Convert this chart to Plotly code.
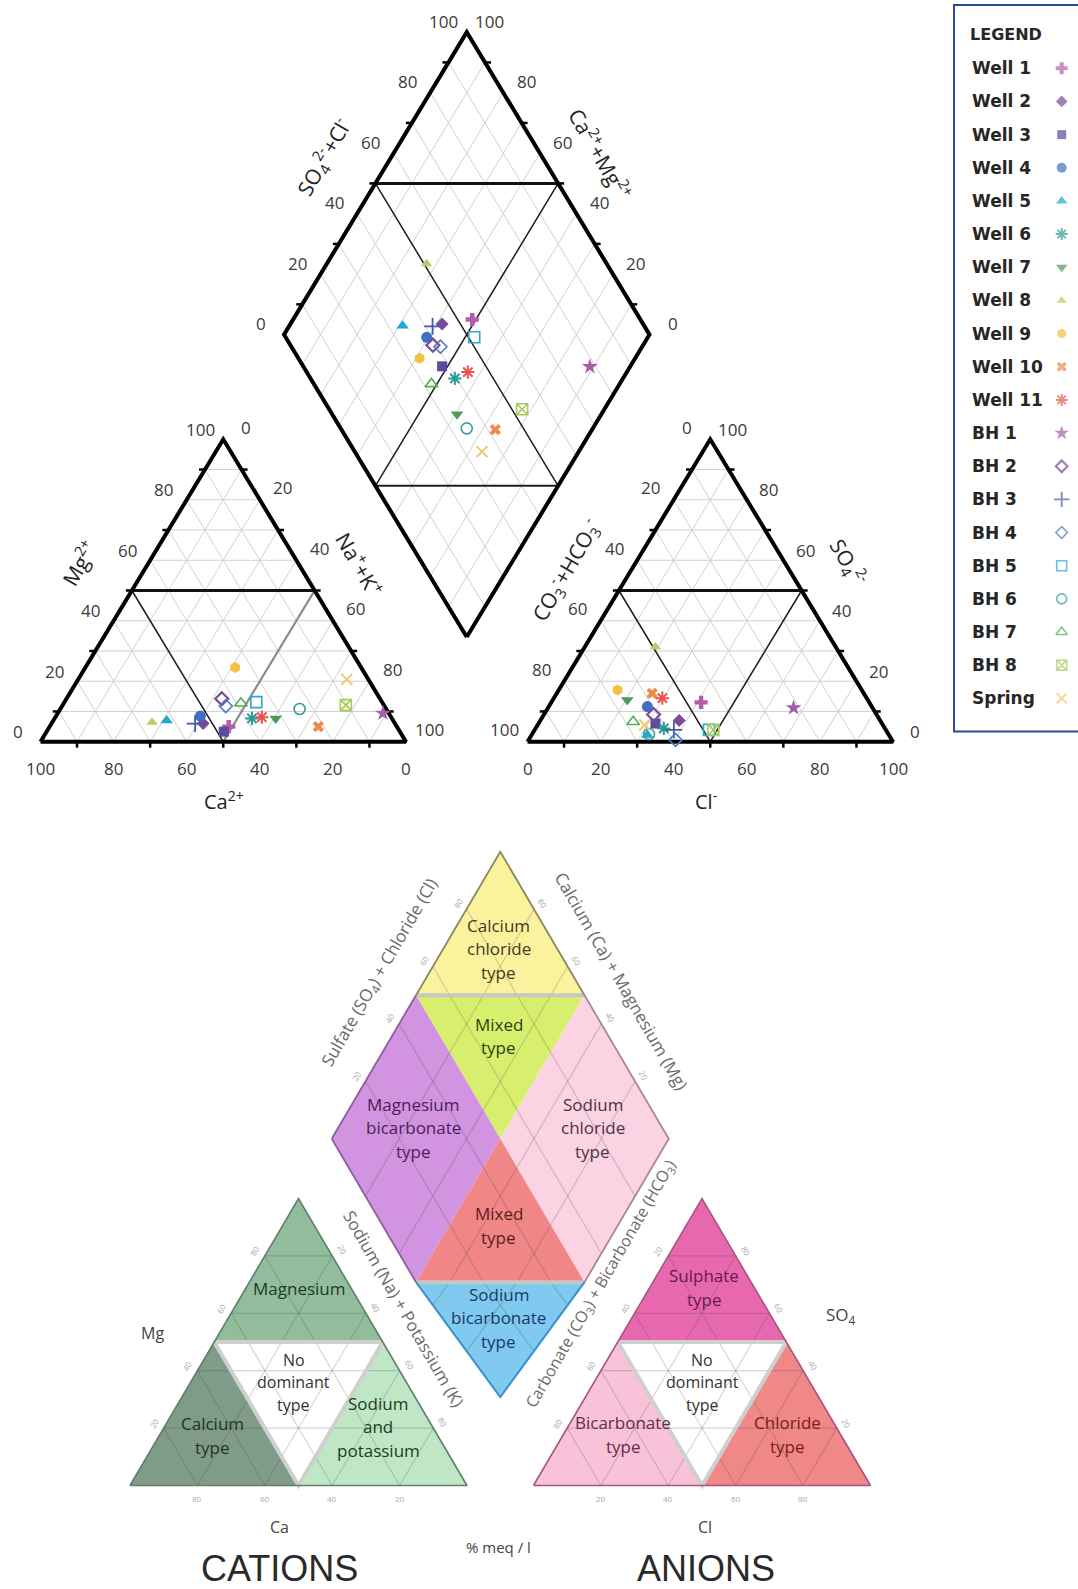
import plotly.graph_objects as go

# ---------------- sample chemistry (% meq/l) ----------------
samples = ["Well 1", "Well 2", "Well 3", "Well 4", "Well 5", "Well 6", "Well 7",
           "Well 8", "Well 9", "Well 10", "Well 11", "BH 1", "BH 2", "BH 3",
           "BH 4", "BH 5", "BH 6", "BH 7", "BH 8", "Spring"]

ca_pct   = [46.0, 52.5, 48.2, 52.0, 62.0, 38.3, 31.8, 66.3, 34.5, 21.5, 35.4,
            1.6, 43.3, 54.7, 43.4, 34.4, 23.7, 38.8, 10.4, 5.9]
mg_pct   = [5.0, 6.0, 3.3, 8.5, 7.0, 7.7, 7.7, 6.4, 24.5, 5.0, 8.1,
            9.4, 14.2, 6.0, 11.8, 13.1, 10.8, 12.7, 12.1, 20.6]
nak_pct  = [49.0, 41.5, 48.5, 39.5, 31.0, 54.0, 60.5, 27.3, 41.0, 73.5, 56.5,
            89.0, 42.5, 39.3, 44.8, 52.5, 65.5, 48.5, 77.5, 73.5]
hco3_pct = [46.0, 55.0, 62.0, 61.4, 66.1, 60.5, 65.8, 49.3, 66.8, 57.9, 55.9,
            21.6, 61.0, 58.0, 59.2, 48.4, 65.5, 67.8, 47.2, 65.2]
so4_pct  = [13.0, 7.0, 6.0, 11.6, 2.2, 4.4, 13.8, 31.4, 17.1, 16.0, 14.4,
            11.2, 9.0, 3.9, 0.6, 3.9, 2.5, 6.6, 3.9, 5.5]
cl_pct   = [41.0, 38.0, 32.0, 27.0, 31.7, 35.1, 20.4, 19.3, 16.1, 26.1, 29.7,
            67.2, 30.0, 38.1, 40.2, 47.7, 32.0, 25.6, 48.9, 29.3]

tick_values = [0, 20, 40, 60, 80, 100]

# ---------------- marker styles ----------------
marker_symbols = ["cross", "diamond", "square", "circle", "triangle-up", "asterisk-open",
                  "triangle-down", "triangle-up", "hexagon", "x", "asterisk-open",
                  "star", "diamond-open", "cross-thin-open", "diamond-open", "square-open",
                  "circle-open", "triangle-up-open", "square-x-open", "x-thin-open"]
marker_colors = ["#b35ea6", "#7a4a9b", "#5a4aa0", "#3f70c4", "#1fa8d2", "#2a9c94",
                 "#4f9a55", "#b5cd6a", "#f3c142", "#ee8a4e", "#e6554f",
                 "#a55fa8", "#7a4a9b", "#4a57a8", "#4a78c6", "#2aa8d6",
                 "#3a9b98", "#5aa85a", "#a8c85a", "#f5c470"]
marker_sizes = [11, 10, 10, 11, 11, 11, 11, 10, 11, 10, 11,
                12, 10, 12, 10, 11, 11, 11, 11, 11]
marker_lw = [0, 0, 0, 0, 0, 2, 0, 0, 0, 0, 2,
             0, 2.2, 1.8, 1.6, 1.6, 1.6, 1.6, 1.6, 2]


class PiperFrame:
    """Maps Piper compositions to page coordinates."""

    def __init__(self, cat_x0, an_x0, base_y, side, height, dia_by, low_squash=1.0):
        self.cx0, self.ax0, self.by = cat_x0, an_x0, base_y
        self.s, self.h = side, height
        self.dbx = (cat_x0 + side + an_x0) / 2
        self.dby = dia_by
        self.low_squash = low_squash

    def cat(self, right, top):
        return self.cx0 + self.s * (right + top / 2) / 100, self.by - self.h * top / 100

    def an(self, right, top):
        return self.ax0 + self.s * (right + top / 2) / 100, self.by - self.h * top / 100

    def dia(self, c, s):
        x = self.dbx + self.s / 2 * (s - c) / 100
        y = self.dby - self.h * (c + s) / 100
        if c + s < 50 and self.low_squash != 1.0:
            y50 = self.dby - self.h * 0.5
            y = y50 + (y - y50) * self.low_squash
        return x, y


top = PiperFrame(40.5, 527.5, 741.7, 365.5, 302.4, 637.0)
sch = PiperFrame(130.0, 533.5, 1485.5, 337.0, 287.0, 1425.7, low_squash=0.8)

fig = go.Figure()
ann = []


def lines(segs, color, width):
    xs, ys = [], []
    for pts in segs:
        for p in pts:
            xs.append(p[0])
            ys.append(p[1])
        xs.append(None)
        ys.append(None)
    fig.add_trace(go.Scatter(x=xs, y=ys, mode="lines", hoverinfo="skip", showlegend=False,
                             line=dict(color=color, width=width)))


def poly(pts, color):
    xs = [p[0] for p in pts] + [pts[0][0]]
    ys = [p[1] for p in pts] + [pts[0][1]]
    fig.add_trace(go.Scatter(x=xs, y=ys, mode="lines", fill="toself", fillcolor=color,
                             line=dict(width=0), hoverinfo="skip", showlegend=False))


def text(x, y, s, size=17, color="#333333", family="Open Sans", angle=0, xanchor="center"):
    ann.append(dict(x=x, y=y, xref="x", yref="y", text=s, showarrow=False, textangle=angle,
                    xanchor=xanchor, yanchor="middle",
                    font=dict(size=size, color=color, family=family)))


def tri_grid(f, step):
    segs = []
    for k in range(step, 100, step):
        segs.append([f(0, k), f(100 - k, k)])
        segs.append([f(k, 0), f(k, 100 - k)])
        segs.append([f(100 - k, 0), f(0, 100 - k)])
    return segs


def dia_grid(f, step):
    # each line gets a knee point where it crosses the c+s=50 boundary
    segs = []
    for k in range(step, 100, step):
        if k < 50:
            segs.append([f(k, 0), f(k, 50 - k), f(k, 100)])
            segs.append([f(0, k), f(50 - k, k), f(100, k)])
        else:
            segs.append([f(k, 0), f(k, 100)])
            segs.append([f(0, k), f(100, k)])
    return segs


def tri_outline(f):
    return [[f(0, 0), f(100, 0), f(0, 100), f(0, 0)]]


def dia_outline(f):
    return [[f(0, 0), f(100, 0), f(100, 100), f(0, 100), f(0, 0)]]


# ================= hydrochemical facies schematic =================
cation_fields = [([(0, 100), (0, 50), (50, 50)], "#91bd9d"),
                 ([(0, 0), (0, 50), (50, 0)], "#7f9c89"),
                 ([(50, 0), (100, 0), (50, 50)], "#bfe7c6")]
anion_fields = [([(0, 100), (0, 50), (50, 50)], "#e868b0"),
                ([(0, 0), (0, 50), (50, 0)], "#f8c3d8"),
                ([(50, 0), (100, 0), (50, 50)], "#f08888")]
diamond_fields = [([(100, 100), (100, 50), (50, 100)], "#fbf29e"),
                  ([(100, 50), (50, 100), (50, 50)], "#d8ef6e"),
                  ([(100, 0), (100, 50), (50, 50), (50, 0)], "#d293e0"),
                  ([(50, 50), (50, 100), (0, 100), (0, 50)], "#fbd3e3"),
                  ([(50, 50), (50, 0), (0, 50)], "#f08686"),
                  ([(50, 0), (0, 50), (0, 0)], "#80c9ef")]

for verts, col in cation_fields:
    poly([sch.cat(*v) for v in verts], col)
for verts, col in anion_fields:
    poly([sch.an(*v) for v in verts], col)
for verts, col in diamond_fields:
    poly([sch.dia(*v) for v in verts], col)

lines(tri_grid(sch.cat, 20) + tri_grid(sch.an, 20) + dia_grid(sch.dia, 20),
      "rgba(70,70,70,0.22)", 1.2)

# pale borders of the no-dominant fields and mixed fields
lines([[sch.cat(0, 50), sch.cat(50, 50), sch.cat(50, 0), sch.cat(0, 50)],
       [sch.an(0, 50), sch.an(50, 50), sch.an(50, 0), sch.an(0, 50)]], "#cfcfcf", 4)
lines([[sch.dia(100, 50), sch.dia(50, 100)], [sch.dia(50, 0), sch.dia(0, 50)]], "#c6c6c6", 4)

lines(tri_outline(sch.cat), "#5f7f6a", 1.6)
lines(tri_outline(sch.an), "#a8557d", 1.6)
lines([[sch.dia(100, 0), sch.dia(100, 50)], [sch.dia(50, 0), sch.dia(100, 0)]], "#8e5e9e", 1.8)
lines([[sch.dia(100, 50), sch.dia(100, 100), sch.dia(50, 100)]], "#8a8a60", 1.8)
lines([[sch.dia(50, 100), sch.dia(0, 100), sch.dia(0, 50)]], "#a88898", 1.8)
lines([[sch.dia(0, 50), sch.dia(0, 0), sch.dia(50, 0)]], "#3b8fcc", 2)

faint = "#a9a9a9"
for v in (20, 40, 60, 80):
    x, y = sch.cat(100 - v, 0); text(x, y + 13, str(v), 8, faint)
    x, y = sch.cat(0, v); text(x - 10, y - 5, str(v), 8, faint, angle=-60)
    x, y = sch.cat(v, 100 - v); text(x + 10, y - 6, str(v), 8, faint, angle=60)
    x, y = sch.an(v, 0); text(x, y + 13, str(v), 8, faint)
    x, y = sch.an(0, 100 - v); text(x - 10, y - 5, str(v), 8, faint, angle=-60)
    x, y = sch.an(100 - v, v); text(x + 10, y - 5, str(v), 8, faint, angle=60)
    x, y = sch.dia(100, v); text(x - 9, y - 6, str(v), 8, faint, angle=-60)
    x, y = sch.dia(v, 100); text(x + 9, y - 6, str(v), 8, faint, angle=60)

hand = "Open Sans"


def stacked(x, y0, words, color, size=17, gap=23.5):
    for i, w in enumerate(words):
        text(x, y0 + i * gap, w, size, color, hand)


stacked(498.5, 925.0, ["Calcium", "chloride", "type"], "#3d3d1e")
stacked(498.5, 1024.3, ["Mixed", "type"], "#2f3d18")
stacked(413.4, 1104.4, ["Magnesium", "bicarbonate", "type"], "#4b1d5b")
stacked(592.7, 1104.4, ["Sodium", "chloride", "type"], "#4b3340")
stacked(498.5, 1213.8, ["Mixed", "type"], "#5a1c1c")
stacked(498.5, 1294.0, ["Sodium", "bicarbonate", "type"], "#173a66")
stacked(299.0, 1288.8, ["Magnesium"], "#1f3a24")
stacked(293.8, 1359.7, ["No", "dominant", "type"], "#333333", 16, 22.5)
stacked(212.8, 1423.6, ["Calcium", "type"], "#1f3324")
stacked(378.0, 1403.3, ["Sodium", "and", "potassium"], "#1f3a24")
stacked(704.0, 1275.6, ["Sulphate", "type"], "#6a1a4a")
stacked(702.0, 1359.7, ["No", "dominant", "type"], "#333333", 16, 22.5)
stacked(623.0, 1422.5, ["Bicarbonate", "type"], "#6a2a4a")
stacked(787.0, 1422.5, ["Chloride", "type"], "#7a1a1a")

text(152, 1333, "Mg", 16, "#444444", hand)
text(279.6, 1527, "Ca", 16, "#444444", hand)
text(705, 1527, "Cl", 16, "#444444", hand)
text(841, 1315, "SO<sub>4</sub>", 17, "#444444", hand)
text(498.5, 1547, "% meq / l", 15, "#444444", hand)
text(279.6, 1568, "CATIONS", 36, "#2a2a2a", "Liberation Sans")
text(706, 1568, "ANIONS", 36, "#2a2a2a", "Liberation Sans")

axis_col = "#6a6a6a"
text(379, 973, "Sulfate (SO<sub>4</sub>) + Chloride (Cl)", 17, axis_col, hand, angle=-60)
text(622, 981, "Calcium (Ca) + Magnesium (Mg)", 17, axis_col, hand, angle=60)
text(404, 1308, "Sodium (Na) + Potassium (K)", 17, axis_col, hand, angle=60)
text(600, 1284, "Carbonate (CO<sub>3</sub>) + Bicarbonate (HCO<sub>3</sub>)", 16, axis_col, hand, angle=-60)

# ================= Piper diagram of the samples =================
lines(tri_grid(top.cat, 10) + tri_grid(top.an, 10) + dia_grid(top.dia, 10), "#d0d0d0", 1)

lines([[top.cat(0, 50), top.cat(50, 0)], [top.an(0, 50), top.an(50, 0)],
       [top.an(50, 50), top.an(50, 0)], [top.dia(100, 50), top.dia(0, 50)],
       [top.dia(50, 100), top.dia(50, 0)]], "#1e1e1e", 1.5)
lines([[top.cat(50, 50), top.cat(50, 0)]], "#8a8a8a", 2.2)
lines([[top.dia(50, 0), top.dia(0, 50)]], "#1e1e1e", 2)
lines([[top.cat(0, 50), top.cat(50, 50)], [top.an(0, 50), top.an(50, 50)],
       [top.dia(100, 50), top.dia(50, 100)]], "#111111", 3)

lines(tri_outline(top.cat) + tri_outline(top.an) + dia_outline(top.dia), "#000000", 4)

ticks = []
for k in (10, 30, 50, 70, 90):
    for f in (top.cat, top.an):
        x, y = f(k, 0); ticks.append([(x, y), (x, y + 6)])
        x, y = f(0, k); ticks.append([(x, y), (x - 6, y)])
        x, y = f(100 - k, k); ticks.append([(x, y), (x + 6, y)])
    x, y = top.dia(100, k); ticks.append([(x, y), (x - 6, y)])
    x, y = top.dia(k, 100); ticks.append([(x, y), (x + 6, y)])
lines(ticks, "#000000", 2.5)

tick_col = "#3a3a3a"
for v in tick_values:
    s = str(v)
    x, y = top.cat(0, v); text(x - 23, y - 10, s, 17, tick_col)
    x, y = top.cat(v, 100 - v); text(x + 23, y - 12, s, 17, tick_col)
    x, y = top.cat(100 - v, 0); text(x, y + 26.5, s, 17, tick_col)
    x, y = top.an(0, 100 - v); text(x - 23, y - 12, s, 17, tick_col)
    x, y = top.an(100 - v, v); text(x + 22, y - 10, s, 17, tick_col)
    x, y = top.an(v, 0); text(x, y + 26.5, s, 17, tick_col)
    x, y = top.dia(100, v); text(x - 23, y - 11, s, 17, tick_col)
    x, y = top.dia(v, 100); text(x + 23, y - 11, s, 17, tick_col)

title_col = "#222222"
text(78, 563, "Mg<sup>2+</sup>", 21, title_col, angle=-60)
text(360, 563, "Na<sup>+</sup>+K<sup>+</sup>", 21, title_col, angle=60)
text(323, 157, "SO<sub>4</sub><sup>2-</sup>+Cl<sup>-</sup>", 21, title_col, angle=-60)
text(601, 153, "Ca<sup>2+</sup>+Mg<sup>2+</sup>", 21, title_col, angle=60)
text(565, 570, "CO<sub>3</sub><sup>-</sup>+HCO<sub>3</sub><sup>-</sup>", 21, title_col, angle=-60)
text(849, 562, "SO<sub>4</sub><sup>2-</sup>", 21, title_col, angle=60)
text(224, 800, "Ca<sup>2+</sup>", 20, title_col)
text(706, 800, "Cl<sup>-</sup>", 20, title_col)

for i, name in enumerate(samples):
    pc = top.cat(nak_pct[i], mg_pct[i])
    pa = top.an(cl_pct[i], so4_pct[i])
    pd = top.dia(100 - nak_pct[i], so4_pct[i] + cl_pct[i])
    fig.add_trace(go.Scatter(
        x=[pc[0], pa[0], pd[0]], y=[pc[1], pa[1], pd[1]], mode="markers", name=name,
        showlegend=False,
        marker=dict(symbol=marker_symbols[i], color=marker_colors[i], size=marker_sizes[i],
                    line=dict(color=marker_colors[i], width=marker_lw[i]))))

# ---------------- legend panel ----------------
leg_y0, leg_dy = 68.3, 33.16
text(1006, 34, "<b>LEGEND</b>", 16, "#262626", "DejaVu Sans")
for i, name in enumerate(samples):
    yy = leg_y0 + i * leg_dy
    text(970, yy, "<b>" + name + "</b>", 17, "#262626", "DejaVu Sans", xanchor="left")
fig.add_trace(go.Scatter(
    x=[1061.7] * len(samples), y=[leg_y0 + i * leg_dy for i in range(len(samples))],
    mode="markers", hoverinfo="skip", showlegend=False,
    marker=dict(symbol=marker_symbols, color=marker_colors, size=[s - 1 for s in marker_sizes],
                line=dict(color=marker_colors, width=marker_lw))))

shapes = [dict(type="rect", xref="x", yref="y", x0=954, y0=5, x1=1100, y1=731.5,
               line=dict(color="#2b4a9a", width=2), fillcolor="rgba(0,0,0,0)", layer="below")]

fig.update_layout(
    width=1078, height=1589, margin=dict(l=0, r=0, t=0, b=0),
    paper_bgcolor="white", plot_bgcolor="white", showlegend=False,
    xaxis=dict(range=[0, 1078], visible=False, fixedrange=True),
    yaxis=dict(range=[1589, 0], visible=False, fixedrange=True),
    annotations=ann, shapes=shapes,
)

fig.write_html("out.html")
